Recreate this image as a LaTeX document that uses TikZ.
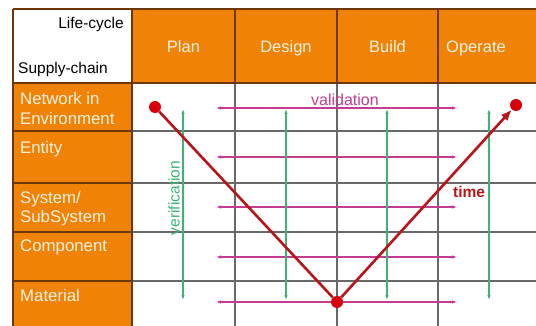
\documentclass[tikz,border=0pt]{standalone}
\usepackage{fontspec}
\setmainfont{Liberation Sans}
\usetikzlibrary{arrows.meta}
\definecolor{org}{RGB}{240,130,5}
\definecolor{brd}{RGB}{110,55,10}
\definecolor{grd}{RGB}{105,105,105}
\definecolor{grn}{RGB}{60,180,115}
\definecolor{mag}{RGB}{195,60,145}
\definecolor{vred}{RGB}{185,20,25}
\definecolor{dred}{RGB}{215,0,10}
\definecolor{wtxt}{RGB}{255,242,225}
\tikzset{
  hdr/.style={text=wtxt,font=\fontsize{16.5}{19}\selectfont,anchor=base,inner sep=0},
  rowlab/.style={text=wtxt,font=\fontsize{16.8}{19.5}\selectfont,anchor=base west,inner sep=0,align=left},
  blk/.style={text=black,font=\fontsize{15.5}{18}\selectfont,inner sep=0},
  dot/.style={circle,fill=dred,inner sep=0,minimum size=12pt},
  vline/.style={vred,line width=2.6pt},
  gar/.style={grn,line width=1.1pt,{Latex[length=5pt,width=3.5pt]}-{Latex[length=5pt,width=3.5pt]}},
  mar/.style={mag,line width=1.1pt,{Latex[length=5pt,width=3.5pt]}-{Latex[length=5pt,width=3.5pt]}},
}
\begin{document}
\begin{tikzpicture}[x=1pt,y=-1pt]
\useasboundingbox[fill=white] (0,0) rectangle (536,326);
% fills
\fill[org] (132,9) rectangle (536,83);
\fill[org] (13,83) rectangle (132,326);
% body grid
\foreach \y in {131,183,232} \draw[grd,line width=1.2pt] (132,\y) -- (536,\y);
\draw[grd,line width=2pt] (132,281) -- (536,281);
\foreach \x in {235,337,438} \draw[grd,line width=1.2pt] (\x,83) -- (\x,326);
% orange borders
\foreach \y in {131,183,232} \draw[brd,line width=1.2pt] (13,\y) -- (132,\y);
\draw[brd,line width=2pt] (13,281) -- (132,281);
\foreach \x in {235,337,438} \draw[brd,line width=1.2pt] (\x,9) -- (\x,83);
\draw[brd,line width=1.2pt] (13,9) -- (536,9);
\draw[brd,line width=1.4pt] (13,83) -- (536,83);
\draw[brd,line width=1.2pt] (13,9) -- (13,326);
\draw[brd,line width=1.4pt] (132,9) -- (132,326);
% header texts
\node[blk,anchor=base east] (lc) at (124,28.5) {Life-cycle};
\node[blk,anchor=base west] (sc) at (18,73.5) {Supply-chain};
\node[hdr] (plan) at (183.5,53) {Plan};
\node[hdr] (design) at (286,53) {Design};
\node[hdr] (build) at (387.5,53) {Build};
\node[hdr] (operate) at (476,53) {Operate};
% row labels (base anchor = last line)
\node[rowlab] (r1) at (20,124.5) {Network in\\Environment};
\node[rowlab] (r2) at (20,153.5) {Entity};
\node[rowlab] (r3) at (20,222.5) {System/\\SubSystem};
\node[rowlab] (r4) at (20,251.5) {Component};
\node[rowlab] (r5) at (20,301.5) {Material};
% validation arrows
\foreach \y [count=\i] in {108,157,207,257,302} {
  \coordinate (ml\i) at (216,\y);
  \coordinate (mr\i) at (457,\y);
  \draw[mar] (ml\i) -- (mr\i);
}
% verification arrows
\foreach \x [count=\i] in {183,286,387,489} {
  \coordinate (gt\i) at (\x,109);
  \coordinate (gb\i) at (\x,300);
  \draw[gar] (gt\i) -- (gb\i);
}
\node[text=mag,font=\fontsize{16}{19}\selectfont,anchor=base,inner sep=0] (val) at (345,106) {validation};
\node[text=grn,font=\fontsize{15.5}{18}\selectfont,rotate=90,inner sep=0] (ver) at (174,198) {verification};
\node[text=vred,font=\bfseries\fontsize{15.5}{18}\selectfont,anchor=base west,inner sep=0] (time) at (453,197) {time};
% V
\node[dot] (s) at (155,107) {};
\node[dot] (b) at (337,302) {};
\node[dot] (e) at (516,105) {};
\draw[vline] (s) -- (b);
\draw[vline,-{Latex[length=11pt,width=9pt]}] (b) -- (e);
\end{tikzpicture}
\end{document}
